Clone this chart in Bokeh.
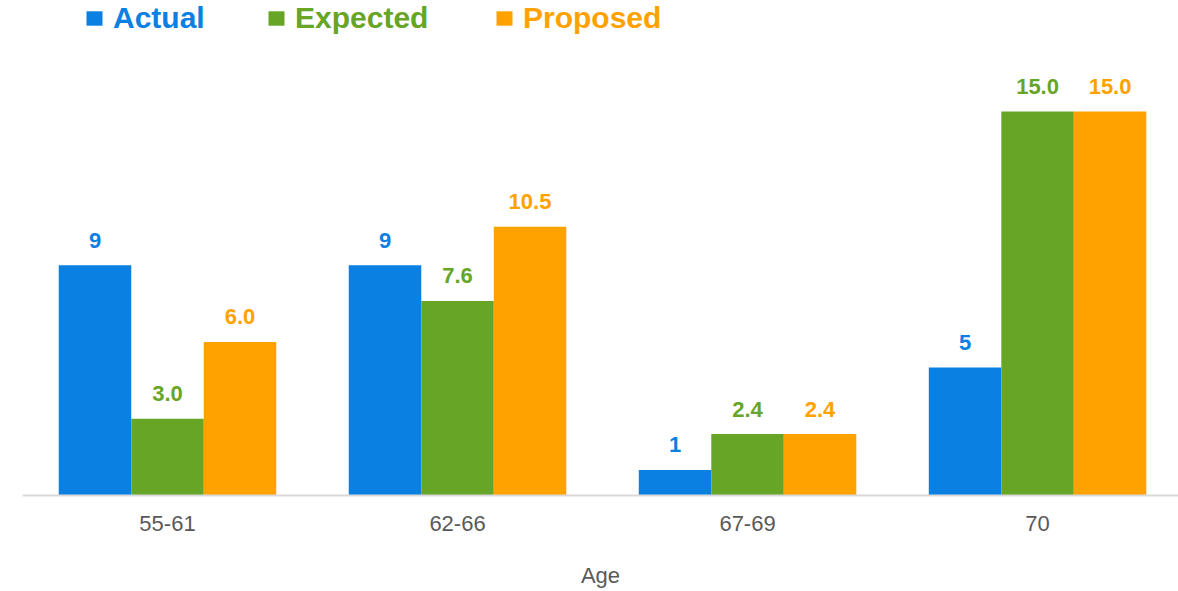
from bokeh.plotting import figure
from bokeh.models import ColumnDataSource, Range1d, FixedTicker, Legend, LegendItem
from bokeh.core.properties import value
from bokeh.transform import dodge
from bokeh.embed import file_html
from bokeh.resources import INLINE

ages = ["55-61", "62-66", "67-69", "70"]
actual = [9, 9, 1, 5]
expected = [3.0, 7.6, 2.4, 15.0]
proposed = [6.0, 10.5, 2.4, 15.0]
series = ["Actual", "Expected", "Proposed"]
colors = ["#0A80E2", "#66A526", "#FFA200"]

FONT = "Liberation Sans"
xs = list(range(len(ages)))
src = ColumnDataSource(dict(
    x=xs,
    Actual=actual,
    Expected=expected,
    Proposed=proposed,
    Actual_lbl=[f"{v:.0f}" for v in actual],
    Expected_lbl=[f"{v:.1f}" for v in expected],
    Proposed_lbl=[f"{v:.1f}" for v in proposed],
))

p = figure(width=1178, height=591,
           x_range=Range1d(-0.5, 3.486), y_range=Range1d(0, 19.34),
           output_backend="svg", toolbar_location=None,
           y_axis_location=None,
           min_border_left=22, min_border_right=0, min_border_top=0, min_border_bottom=96)
p.xgrid.visible = False
p.ygrid.visible = False
p.outline_line_color = None
p.background_fill_color = "white"
p.border_fill_color = "white"

offsets = [-0.25, 0.0, 0.25]
leg_x = [62, 244, 472]
for name, col, off, lx in zip(series, colors, offsets, leg_x):
    r = p.vbar(x=dodge("x", off, range=p.x_range), top=name, width=0.25, bottom=0,
               source=src, fill_color=col, line_color=None)
    p.text(x=dodge("x", off, range=p.x_range), y=name, text=name + "_lbl", source=src,
           text_font=value(FONT), text_font_style="bold", text_font_size="22px",
           text_color=col, text_align="center", text_baseline="alphabetic", y_offset=-25)
    leg = Legend(items=[LegendItem(label=name, renderers=[r])], location=(lx, 460),
                 orientation="horizontal", padding=0, margin=0, spacing=0,
                 border_line_color=None, background_fill_alpha=0,
                 glyph_width=20, glyph_height=18, label_standoff=9,
                 label_text_font=FONT, label_text_font_size="30px",
                 label_text_font_style="bold", label_text_color=col)
    p.add_layout(leg)

ax = p.xaxis[0]
ax.ticker = FixedTicker(ticks=xs)
ax.major_label_overrides = {i: a for i, a in zip(xs, ages)}
ax.major_tick_line_color = None
ax.minor_tick_line_color = None
ax.axis_line_color = "#D9D9D9"
ax.axis_line_width = 2
ax.major_label_standoff = 14
ax.major_label_text_font = FONT
ax.major_label_text_font_size = "22px"
ax.major_label_text_color = "#595959"
ax.axis_label = "Age"
ax.axis_label_text_font = FONT
ax.axis_label_text_font_size = "22px"
ax.axis_label_text_font_style = "normal"
ax.axis_label_text_color = "#595959"
ax.axis_label_standoff = 29

open("out.html", "w").write(file_html(p, INLINE))
